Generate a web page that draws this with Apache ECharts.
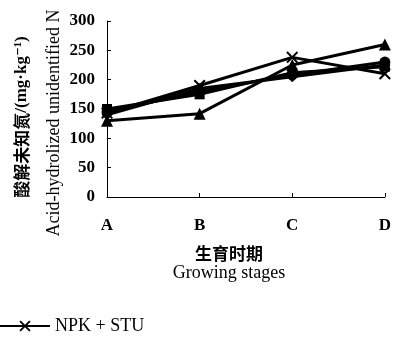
<!DOCTYPE html>
<html><head><meta charset="utf-8">
<script src="https://cdn.jsdelivr.net/npm/echarts@6/dist/echarts.min.js"></script>
<style>html,body{margin:0;padding:0;background:#fff}#c{width:394px;height:337px}</style>
</head><body><div id="c"></div>
<script>
var categories = ['A', 'B', 'C', 'D'];
var yTicks = [0, 50, 100, 150, 200, 250, 300];
var seriesNames = ['S1', 'S2', 'S3', 'S4', 'NPK + STU'];
var s1 = [140, 185, 205, 225];
var s2 = [150, 175, 212, 222];
var s3 = [130, 142, 225, 260];
var s4 = [145, 180, 208, 230];
var s5 = [143, 190, 238, 210];

var xPath = 'path://M0,1.2L1.2,0L5,3.8L8.8,0L10,1.2L6.2,5L10,8.8L8.8,10L5,6.2L1.2,10L0,8.8L3.8,5Z';
var symbols = ['diamond', 'rect', 'triangle', 'circle', xPath];
var sizes = [11, 10, 12, 11, 12];
var datas = [s1, s2, s3, s4, s5];
var serif = '"Liberation Serif","DejaVu Serif",serif';
var cjk = '"Noto Sans CJK SC",sans-serif';

var chart = echarts.init(document.getElementById('c'));
chart.setOption({
  animation: false,
  backgroundColor: '#fff',
  grid: {left: 107, right: 5, top: 21, bottom: 140},
  legend: {
    data: ['NPK + STU'], left: -6, top: 312, itemWidth: 50, itemHeight: 14,
    textStyle: {fontFamily: serif, fontSize: 18, color: '#000'}
  },
  xAxis: {
    type: 'category', data: categories, boundaryGap: false,
    axisLine: {lineStyle: {color: '#000', width: 1}},
    axisTick: {inside: true, length: 4, lineStyle: {color: '#000'}},
    axisLabel: {fontFamily: serif, fontWeight: 'bold', fontSize: 17, color: '#000', margin: 20}
  },
  yAxis: {
    type: 'value', min: 0, max: 300, interval: 50,
    axisLine: {show: true, lineStyle: {color: '#000', width: 1}},
    axisTick: {show: true, inside: true, length: 4, lineStyle: {color: '#000'}},
    splitLine: {show: false},
    axisLabel: {fontFamily: serif, fontWeight: 'bold', fontSize: 17, color: '#000', margin: 12,
      formatter: function (v) { return yTicks.indexOf(v) >= 0 ? String(v) : ''; }}
  },
  graphic: [
    {type: 'text', x: 22, y: 117, rotation: Math.PI / 2,
      style: {text: '{c|酸解未知氮}{e|/(mg·kg⁻¹)}', fill: '#000', textAlign: 'center', textVerticalAlign: 'middle',
        rich: {c: {font: 'bold 17px ' + cjk, fill: '#000'}, e: {font: 'bold 17px ' + serif, fill: '#000'}}}},
    {type: 'text', x: 54, y: 123, rotation: Math.PI / 2,
      style: {text: 'Acid-hydrolized unidentified N', font: '18px ' + serif, fill: '#000', textAlign: 'center', textVerticalAlign: 'middle'}},
    {type: 'text', x: 229, y: 254,
      style: {text: '生育时期', font: 'bold 17px ' + cjk, fill: '#000', textAlign: 'center', textVerticalAlign: 'middle'}},
    {type: 'text', x: 229, y: 273,
      style: {text: 'Growing stages', font: '18px ' + serif, fill: '#000', textAlign: 'center', textVerticalAlign: 'middle'}}
  ],
  series: datas.map(function (d, i) {
    return {
      name: seriesNames[i], type: 'line', data: d,
      symbol: symbols[i], symbolSize: sizes[i], showAllSymbol: true,
      lineStyle: {color: '#000', width: 3},
      itemStyle: {color: '#000', borderColor: '#000', borderWidth: 0}
    };
  })
});
</script></body></html>
